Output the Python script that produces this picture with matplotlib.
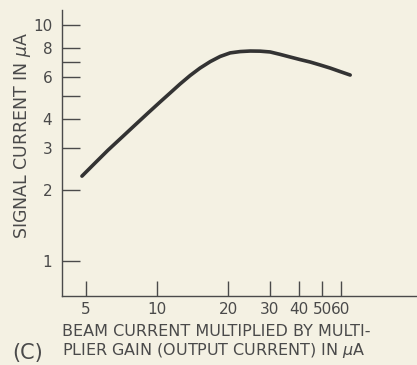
import matplotlib
matplotlib.use("Agg")
import matplotlib.pyplot as plt
from matplotlib.ticker import FixedLocator, NullLocator, NullFormatter

# Data
beam_current = [4.81, 5.46, 6.20, 7.11, 8.07, 9.16, 10.3, 11.35, 12.5, 13.8,
                15.2, 16.8, 18.5, 20.4, 22.5, 24.8, 27.3, 30.1, 33.2, 36.6,
                40.3, 44.5, 49.1, 54.1, 59.6, 65.7]
signal_current = [2.29, 2.60, 2.95, 3.35, 3.77, 4.24, 4.72, 5.15, 5.62, 6.11,
                  6.57, 7.00, 7.36, 7.62, 7.72, 7.76, 7.75, 7.69, 7.51, 7.32,
                  7.14, 6.97, 6.77, 6.57, 6.35, 6.14]

x_ticks = [5, 10, 20, 30, 40, 50, 60]
x_ticklabels = ["5", "10", "20", "30", "40", "50", "60"]
y_ticks = [1, 2, 3, 4, 5, 6, 7, 8, 10]
y_ticklabels = ["1", "2", "3", "4", "", "6", "", "8", "10"]

bg = "#f4f1e3"
ink = "#4a4a4a"

fig = plt.figure(figsize=(4.17, 3.65), dpi=100, facecolor=bg)
W, H = 417, 365
ax = fig.add_axes([62 / W, 1 - 296 / H, (417 - 62) / W, (296 - 10) / H])
ax.set_facecolor(bg)

ax.plot(beam_current, signal_current, color="#333333", lw=2.6,
        solid_capstyle="round", solid_joinstyle="round")

ax.set_xscale("log")
ax.set_yscale("log")
ax.set_xlim(3.96, 126)
ax.set_ylim(0.711, 11.58)

for s in ["top", "right"]:
    ax.spines[s].set_visible(False)
for s in ["left", "bottom"]:
    ax.spines[s].set_color(ink)
    ax.spines[s].set_linewidth(1.0)

ax.xaxis.set_major_locator(FixedLocator(x_ticks))
ax.xaxis.set_minor_locator(NullLocator())
ax.xaxis.set_minor_formatter(NullFormatter())
ax.set_xticklabels(x_ticklabels)
ax.yaxis.set_major_locator(FixedLocator(y_ticks))
ax.yaxis.set_minor_locator(NullLocator())
ax.yaxis.set_minor_formatter(NullFormatter())
ax.set_yticklabels(y_ticklabels)

ax.tick_params(axis="x", direction="in", length=11, width=1.0, color=ink,
               labelcolor=ink, labelsize=11, pad=4)
ax.tick_params(axis="y", direction="in", length=13, width=1.0, color=ink,
               labelcolor=ink, labelsize=11, pad=7)

fig.text(23 / W, 1 - 136 / H, "SIGNAL CURRENT IN $\\mu$A", rotation=90,
         ha="center", va="center", color=ink, fontsize=12.5)
fig.text(62 / W, 1 - 332 / H, "BEAM CURRENT MULTIPLIED BY MULTI-",
         ha="left", va="center", color=ink, fontsize=11.5)
fig.text(62 / W, 1 - 350 / H, "PLIER GAIN (OUTPUT CURRENT) IN $\\mu$A",
         ha="left", va="center", color=ink, fontsize=11.5)
fig.text(12 / W, 1 - 353 / H, "(C)", ha="left", va="center", color=ink, fontsize=15)

fig.savefig("out.png", dpi=100, facecolor=bg)
